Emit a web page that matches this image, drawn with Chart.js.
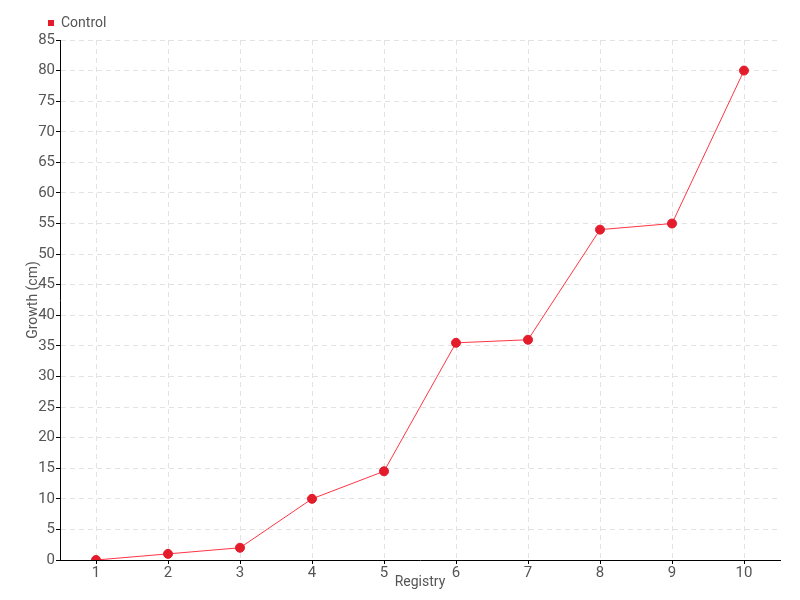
<!DOCTYPE html>
<html>
<head>
<meta charset="utf-8">
<script src="https://cdn.jsdelivr.net/npm/chart.js@4/dist/chart.umd.min.js"></script>
<style>
  html, body { margin: 0; padding: 0; background: #fff; }
  #wrap { width: 800px; height: 600px; }
</style>
</head>
<body>
<div id="wrap"><canvas id="growthChart" width="800" height="600"></canvas></div>
<script>
const registry = ["1", "2", "3", "4", "5", "6", "7", "8", "9", "10"];
const control = [0, 1, 2, 10, 14.5, 35.5, 36, 54, 55, 80];

const fontFamily = "Roboto, 'Liberation Sans Narrow', sans-serif";
const textColor = "#555";

// nudge the legend to sit right above the y axis, like the original
const legendShift = {
    id: "legendShift",
    beforeDraw(chart) {
        const lg = chart.legend;
        if (lg && !lg._shifted) {
            lg.left += 38;
            lg.right += 38;
            lg._shifted = true;
        }
    }
};

new Chart(document.getElementById("growthChart"), {
    type: "line",
    data: {
        labels: registry,
        datasets: [{
            label: "Control",
            data: control,
            borderColor: "#ff3545",
            backgroundColor: "#e31b2b",
            borderWidth: 1,
            pointRadius: 4.5,
            pointBackgroundColor: "#e31b2b",
            pointBorderColor: "#e31b2b",
            tension: 0
        }]
    },
    options: {
        responsive: false,
        animation: false,
        layout: {padding: {left: 0, right: 20, top: 6, bottom: 0}},
        plugins: {
            legend: {
                position: "top",
                align: "start",
                labels: {
                    usePointStyle: true,
                    boxWidth: 6,
                    boxHeight: 6,
                    padding: 10,
                    color: textColor,
                    font: {family: fontFamily, size: 14},
                    generateLabels: () => [{
                        text: "Control",
                        fillStyle: "#e31b2b",
                        strokeStyle: "#e31b2b",
                        fontColor: textColor,
                        lineWidth: 0,
                        pointStyle: "rect",
                        datasetIndex: 0
                    }]
                }
            },
            tooltip: {enabled: false}
        },
        scales: {
            x: {
                offset: true,
                afterFit: s => { s.height = 40; },
                title: {
                    display: true,
                    text: "Registry",
                    color: textColor,
                    font: {family: fontFamily, size: 14},
                    padding: {top: 0, bottom: 9}
                },
                ticks: {color: textColor, font: {family: fontFamily, size: 15}, padding: 0, maxRotation: 0},
                grid: {color: "#e2e2e2", tickColor: "#000", tickLength: 4, offset: false},
                border: {color: "#000", width: 1, dash: [5, 4]}
            },
            y: {
                min: 0,
                max: 85,
                afterFit: s => { s.width = 60; },
                title: {
                    display: true,
                    text: "Growth (cm)",
                    color: textColor,
                    font: {family: fontFamily, size: 14},
                    padding: {top: 25, bottom: 0}
                },
                ticks: {stepSize: 5, color: textColor, font: {family: fontFamily, size: 15}, padding: 1},
                grid: {color: "#e2e2e2", tickColor: "#000", tickLength: 4},
                border: {color: "#000", width: 1, dash: [5, 4]}
            }
        }
    },
    plugins: [legendShift]
});
</script>
</body>
</html>
